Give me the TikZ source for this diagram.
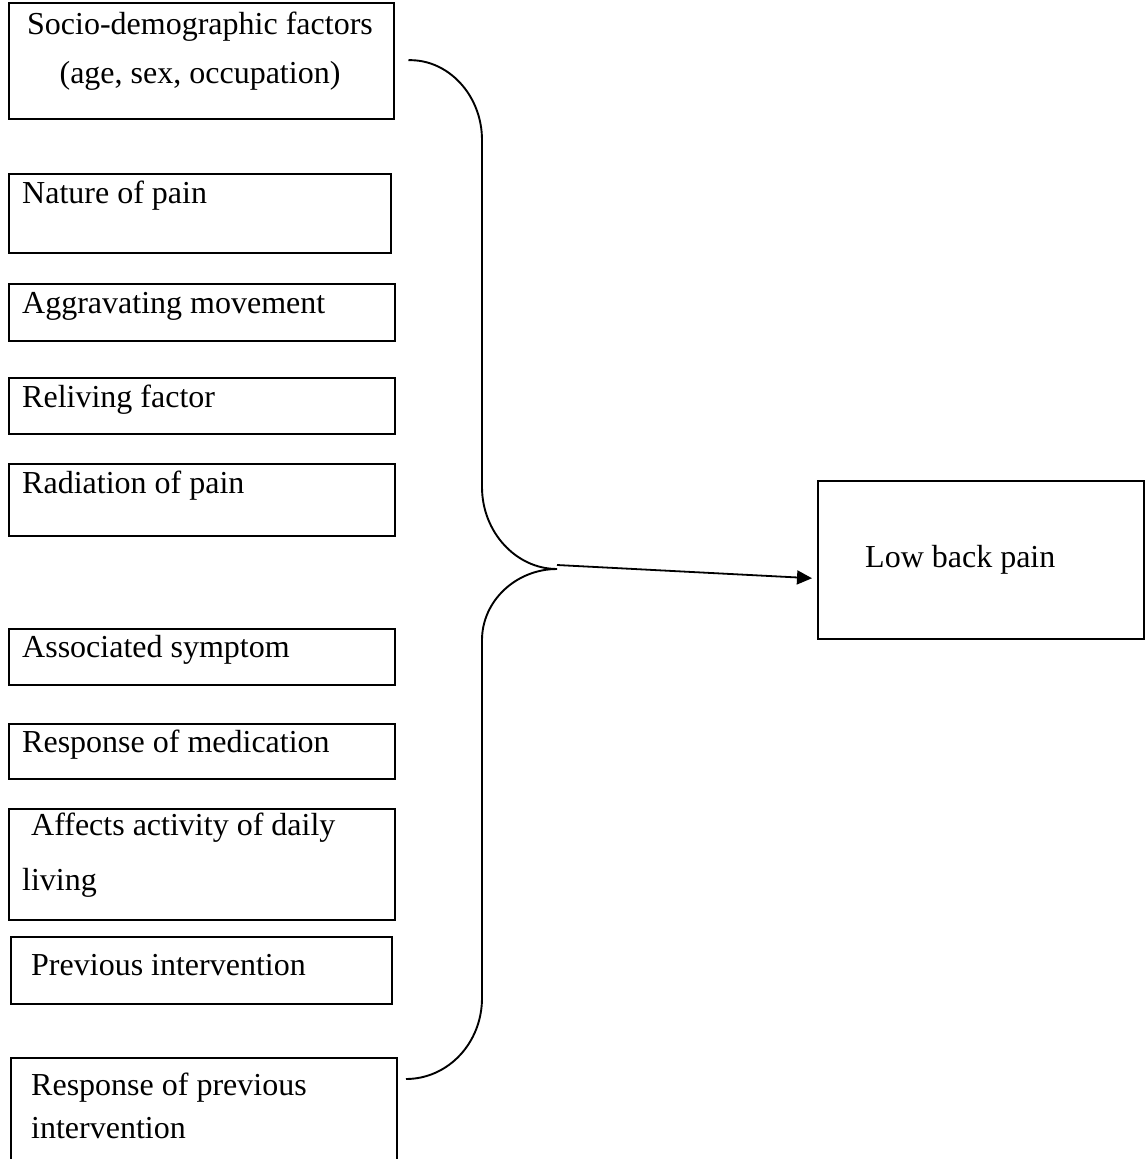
\documentclass[tikz,border=0pt]{standalone}
\usepackage{fontspec}
\setmainfont{Liberation Serif}
\usetikzlibrary{arrows.meta,calc}
\tikzset{
  boxshape/.style={draw, line width=2.4pt, inner sep=0pt, anchor=north west},
  lbl/.style={inner sep=0pt, anchor=base west, font=\fontsize{32}{38}\selectfont},
  clbl/.style={inner sep=0pt, anchor=base, font=\fontsize{32}{38}\selectfont},
  bracel/.style={line width=1.9pt},
  conn/.style={line width=1.8pt, -{Triangle[length=15pt,width=14pt]}, shorten >=5pt}
}
\newcommand{\bx}[5]{\node[boxshape, minimum width=#4pt-#2pt, minimum height=#5pt-#3pt] (#1) at (#2,#3) {};}
\begin{document}
\begin{tikzpicture}[x=1pt,y=-1pt]
\useasboundingbox (0,0) rectangle (1145,1159);
\clip (0,0) rectangle (1145,1159);
% boxes
\bx{socio}{8}{2}{393}{118}
\bx{nature}{8}{173}{390}{252}
\bx{aggr}{8}{283}{394}{340}
\bx{reliv}{8}{377}{394}{433}
\bx{radiat}{8}{463}{394}{535}
\bx{assoc}{8}{628}{394}{684}
\bx{respmed}{8}{723}{394}{778}
\bx{affects}{8}{808}{394}{919}
\bx{prev}{10}{936}{391}{1003}
\bx{resprev}{10}{1057}{396}{1175}
\bx{lbp}{817}{480}{1143}{638}
% texts
\node[clbl] (t1a) at (200,34) {Socio-demographic factors};
\node[clbl] (t1b) at (200,83) {(age, sex, occupation)};
\node[lbl] (t2) at (22,203) {Nature of pain};
\node[lbl] (t3) at (22,313) {Aggravating movement};
\node[lbl] (t4) at (22,407) {Reliving factor};
\node[lbl] (t5) at (22,493) {Radiation of pain};
\node[lbl] (t6) at (22,657) {Associated symptom};
\node[lbl] (t7) at (22,752) {Response of medication};
\node[lbl] (t8a) at (31,835) {Affects activity of daily};
\node[lbl] (t8b) at (22,890) {living};
\node[lbl] (t9) at (31,975) {Previous intervention};
\node[lbl] (t10a) at (31,1095) {Response of previous};
\node[lbl] (t10b) at (31,1138) {intervention};
\node[lbl] (t11) at (865,567) {Low back pain};
% brace
\coordinate (btop) at ($(socio.east)+(13,-1)$);
\coordinate (bbot) at (406,1079);
\coordinate (tip) at (557,569);
\draw[bracel] (btop) .. controls (448,59) and (482,95) .. (482,140)
  -- (482,487) .. controls (482,532) and (516,569) .. (tip)
  .. controls (516,569) and (482,601) .. (482,640)
  -- (482,998) .. controls (482,1043) and (448,1079) .. (bbot);
% arrow
\coordinate (astart) at (557,565);
\draw[conn] (astart) -- ($(lbp.north west)!0.614!(lbp.south west)$);
\end{tikzpicture}
\end{document}
